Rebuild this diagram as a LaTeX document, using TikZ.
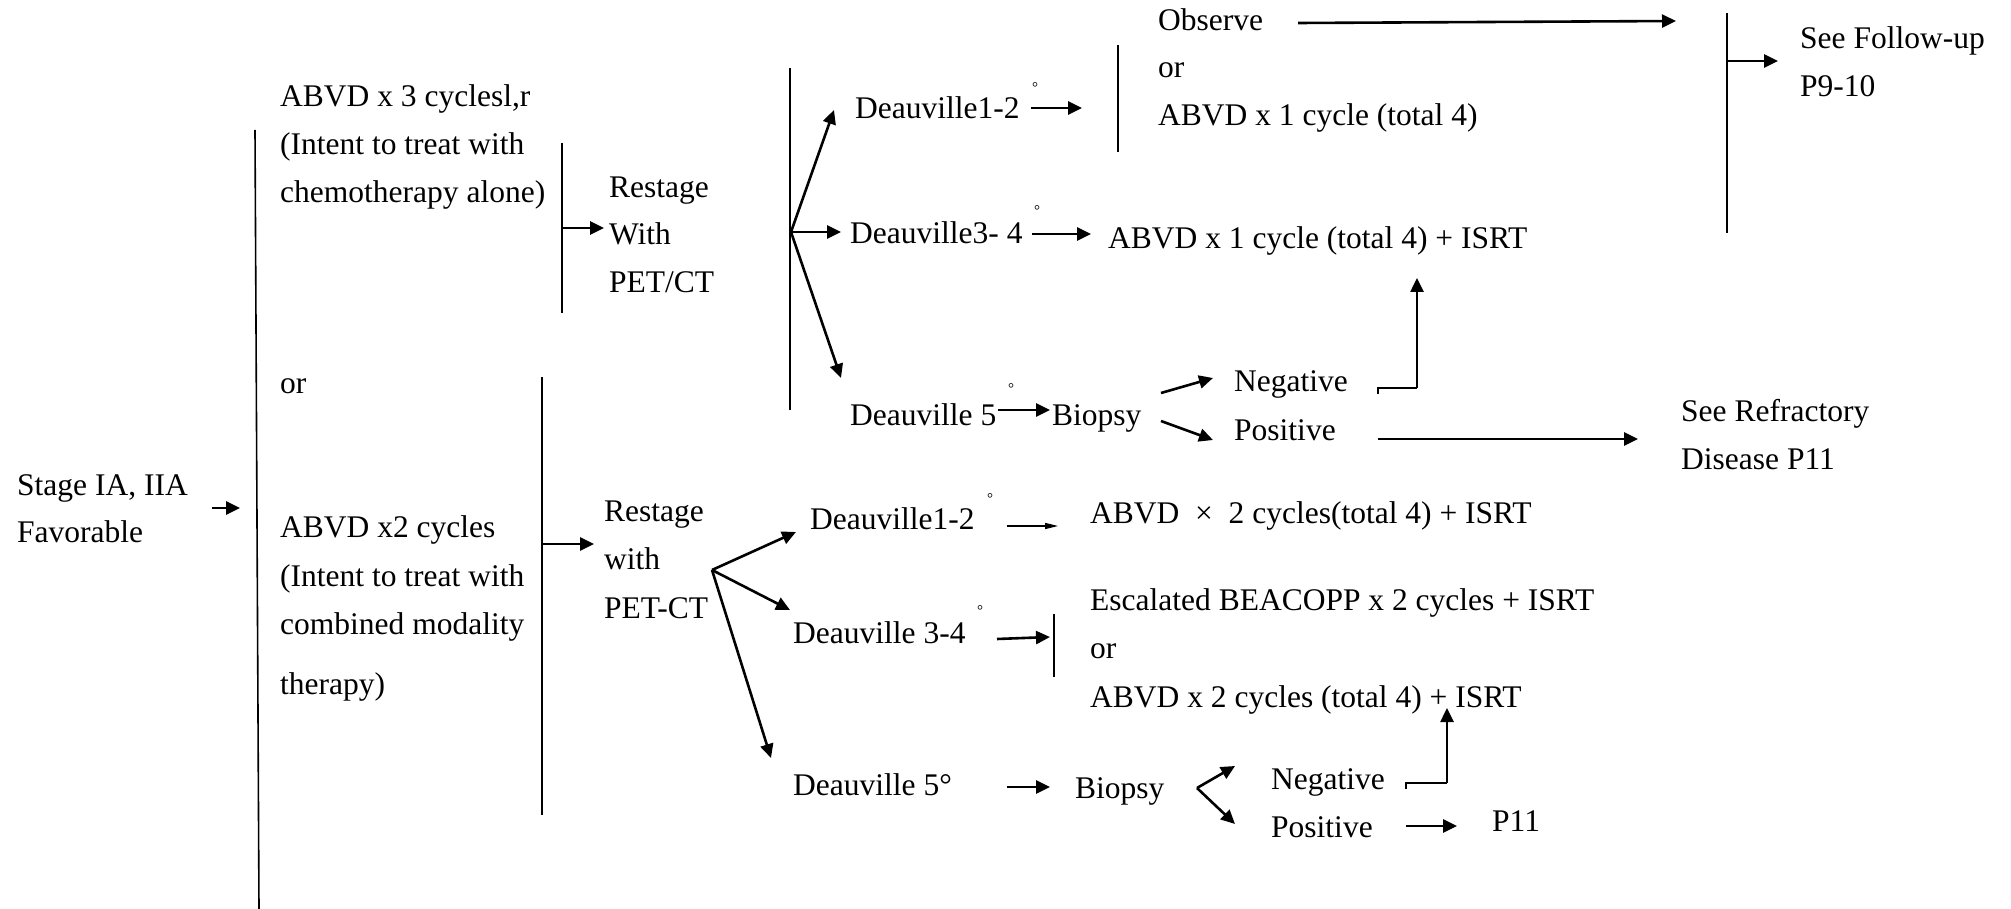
\documentclass[tikz,border=0pt]{standalone}
\usepackage{fontspec}
\setmainfont{Liberation Serif}
\usetikzlibrary{arrows.meta,calc}

\begin{document}
\begin{tikzpicture}[x=1pt,y=-1pt,
  txt/.style={anchor=base west, inner sep=0pt, font=\fontsize{31.5}{38}\selectfont},
  deg/.style={inner sep=0pt, font=\fontsize{15}{16}\selectfont},
  bar/.style={line width=1.6pt},
  arr/.style={line width=2.6pt, -{Triangle[length=14pt,width=13pt]}},
  thinarr/.style={line width=1.3pt, -{Triangle[length=13pt,width=6pt]}},
  link/.style={line width=2.6pt, line join=miter}]

\useasboundingbox[fill=white] (0,0) rectangle (2011,909);

% ---------- text ----------
\node[txt] (stage1) at (17,495) {Stage IA, IIA};
\node[txt] (stage2) at (17,542) {Favorable};

\node[txt] (a1) at (280,107) {ABVD x 3 cyclesl,r};
\node[txt] (a2) at (280,155) {(Intent to treat with};
\node[txt] (a3) at (280,203) {chemotherapy alone)};

\node[txt] (ra1) at (609,198) {Restage};
\node[txt] (ra2) at (609,245) {With};
\node[txt] (ra3) at (609,293) {PET/CT};

\node[txt] (da1) at (855,119) {Deauville1-2};
\node[deg] (dega1) at (1035,88) {°};
\node[txt] (obs) at (1158,31) {Observe};
\node[txt] (or1) at (1158,78) {or};
\node[txt] (abvd1) at (1158,126) {ABVD x 1 cycle (total 4)};
\node[txt] (fu1) at (1800,49) {See Follow-up};
\node[txt] (fu2) at (1800,97) {P9-10};

\node[txt] (da2) at (850,244) {Deauville3- 4};
\node[deg] (dega2) at (1037,211) {°};
\node[txt] (isrt1) at (1108,249) {ABVD x 1 cycle (total 4) + ISRT};

\node[txt] (da3) at (850,425) {Deauville 5};
\node[deg] (dega3) at (1011,389) {°};
\node[txt] (bx1) at (1052,425) {Biopsy};
\node[txt] (neg1) at (1234,391) {Negative};
\node[txt] (pos1) at (1234,440) {Positive};
\node[txt] (ref1) at (1681,421) {See Refractory};
\node[txt] (ref2) at (1681,469) {Disease P11};

\node[txt] (or0) at (280,393) {or};
\node[txt] (b1) at (280,537) {ABVD x2 cycles};
\node[txt] (b2) at (280,586) {(Intent to treat with};
\node[txt] (b3) at (280,634) {combined modality};
\node[txt] (b4) at (280,694) {therapy)};

\node[txt] (rb1) at (604,521) {Restage};
\node[txt] (rb2) at (604,569) {with};
\node[txt] (rb3) at (604,618) {PET-CT};

\node[txt] (db1) at (810,529) {Deauville1-2};
\node[deg] (degb1) at (990,499) {°};
\node[txt] (c1) at (1090,523) {ABVD\ \ ×\ \ 2 cycles(total 4) + ISRT};

\node[txt] (db2) at (793,643) {Deauville 3-4};
\node[deg] (degb2) at (980,611) {°};
\node[txt] (c2) at (1090,610) {Escalated BEACOPP x 2 cycles + ISRT};
\node[txt] (c3) at (1090,658) {or};
\node[txt] (c4) at (1090,707) {ABVD x 2 cycles (total 4) + ISRT};

\node[txt] (db3) at (793,795) {Deauville 5°};
\node[txt] (bx2) at (1075,798) {Biopsy};
\node[txt] (neg2) at (1271,789) {Negative};
\node[txt] (pos2) at (1271,837) {Positive};
\node[txt] (p11) at (1492,831) {P11};

% ---------- connector points ----------
\coordinate (s0) at (212,508);   \coordinate (s1) at (240,508);
\coordinate (m0) at (255,130);   \coordinate (m1) at (259,909);

\coordinate (t0) at (562,143);   \coordinate (t1) at (562,313);
\coordinate (tA) at (562,228);   \coordinate (tB) at (604,228);
\coordinate (u0) at (790,68);    \coordinate (u1) at (790,410);
\coordinate (uo) at (791,232);
\coordinate (u12) at (834,110);  \coordinate (u34) at (841,232);
\coordinate (u5) at (841,378);
\coordinate (e0) at (1031,108);  \coordinate (e1) at (1082,108);
\coordinate (v0) at (1118,45);   \coordinate (v1) at (1118,152);
\coordinate (o0) at (1298,23);   \coordinate (o1) at (1676,21);
\coordinate (w0) at (1727,13);   \coordinate (w1) at (1727,233);
\coordinate (wA) at (1727,61);   \coordinate (wB) at (1778,61);
\coordinate (f0) at (1032,234);  \coordinate (f1) at (1091,234);
\coordinate (g0) at (998,410);   \coordinate (g1) at (1050,410);
\coordinate (h0) at (1161,393);  \coordinate (h1) at (1213,378);
\coordinate (k0) at (1161,421);  \coordinate (k1) at (1213,440);
\coordinate (n0) at (1378,394);  \coordinate (n1) at (1378,388);
\coordinate (n2) at (1417,388);  \coordinate (n3) at (1417,278);
\coordinate (p0) at (1378,439);  \coordinate (p1) at (1638,439);

\coordinate (q0) at (542,377);   \coordinate (q1) at (542,815);
\coordinate (qA) at (542,544);   \coordinate (qB) at (594,544);
\coordinate (ro) at (712,570);
\coordinate (r12) at (796,532);  \coordinate (r34) at (790,610);
\coordinate (r5) at (771,758);
\coordinate (x0) at (1007,526);  \coordinate (x1) at (1058,526);
\coordinate (y0) at (997,639);   \coordinate (y1) at (1050,637);
\coordinate (z0) at (1054,614);  \coordinate (z1) at (1054,677);
\coordinate (j0) at (1007,787);  \coordinate (j1) at (1050,787);
\coordinate (bo) at (1197,788);
\coordinate (bn) at (1235,766);  \coordinate (bp) at (1235,824);
\coordinate (l0) at (1406,789);  \coordinate (l1) at (1406,783);
\coordinate (l2) at (1447,783);  \coordinate (l3) at (1447,708);
\coordinate (i0) at (1406,826);  \coordinate (i1) at (1457,826);

% ---------- bars ----------
\draw[bar] (m0) -- (m1);
\draw[bar] (t0) -- (t1);
\draw[bar] (u0) -- (u1);
\draw[bar] (v0) -- (v1);
\draw[bar] (w0) -- (w1);
\draw[bar] (q0) -- (q1);
\draw[bar] (z0) -- (z1);

% ---------- arrows ----------
\draw[arr] (s0) -- (s1);
\draw[arr] (tA) -- (tB);
\draw[arr] (uo) -- (u12);
\draw[arr] (uo) -- (u34);
\draw[arr] (uo) -- (u5);
\draw[arr] (e0) -- (e1);
\draw[arr] (o0) -- (o1);
\draw[arr] (wA) -- (wB);
\draw[arr] (f0) -- (f1);
\draw[arr] (g0) -- (g1);
\draw[arr] (h0) -- (h1);
\draw[arr] (k0) -- (k1);
\draw[link] (n0) -- (n1) -- (n2);
\draw[arr] (n2) -- (n3);
\draw[arr] (p0) -- (p1);

\draw[arr] (qA) -- (qB);
\draw[arr] (ro) -- (r12);
\draw[arr] (ro) -- (r34);
\draw[arr] (ro) -- (r5);
\draw[thinarr] (x0) -- (x1);
\draw[arr] (y0) -- (y1);
\draw[arr] (j0) -- (j1);
\draw[arr] (bo) -- (bn);
\draw[arr] (bo) -- (bp);
\draw[link] (l0) -- (l1) -- (l2);
\draw[arr] (l2) -- (l3);
\draw[arr] (i0) -- (i1);
\end{tikzpicture}
\end{document}
